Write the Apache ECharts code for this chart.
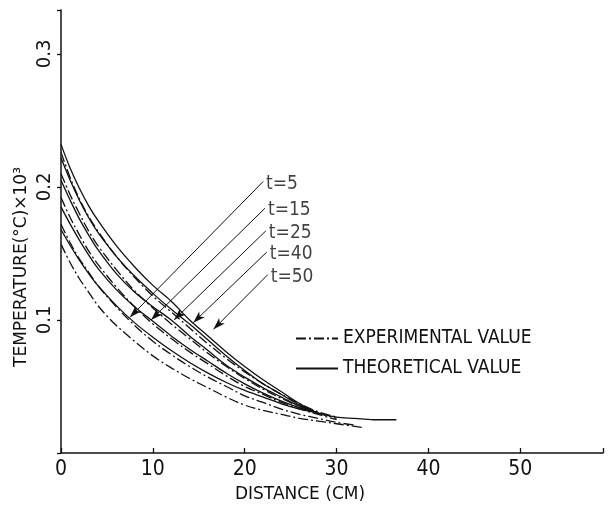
<!DOCTYPE html>
<html>
<head>
<meta charset="utf-8">
<script src="https://cdn.jsdelivr.net/npm/echarts@6/dist/echarts.min.js"></script>
<style>
  html, body { margin: 0; padding: 0; background: #fff; }
  #chart { width: 609px; height: 508px; }
</style>
</head>
<body>
<div id="chart"></div>
<script>
// Temperature profiles along the bar, [distance (cm), temperature (°C ×10^3)]
const theoT5 = [[0,0.168],[1,0.156],[2,0.145],[3,0.135],[4,0.126],[6,0.111],[8,0.098],[10,0.087],[12,0.077],[14,0.068],[16,0.060],[18,0.053],[20,0.047],[22,0.042],[24,0.037],[26,0.033],[28,0.030]];
const theoT15 = [[0,0.185],[1,0.172],[2,0.160],[3,0.149],[4,0.139],[6,0.123],[8,0.110],[10,0.099],[12,0.088],[14,0.078],[16,0.069],[18,0.060],[20,0.052],[22,0.045],[24,0.039],[26,0.034],[28,0.030]];
const theoT25 = [[0,0.205],[1,0.190],[2,0.176],[3,0.164],[4,0.153],[6,0.135],[8,0.121],[10,0.110],[12,0.100],[14,0.088],[16,0.077],[18,0.066],[20,0.057],[22,0.049],[24,0.042],[26,0.035],[28,0.030]];
const theoT40 = [[0,0.222],[1,0.205],[2,0.190],[3,0.177],[4,0.166],[6,0.148],[8,0.133],[10,0.120],[12,0.108],[14,0.097],[16,0.085],[18,0.073],[20,0.062],[22,0.052],[24,0.044],[26,0.036],[28,0.030]];
const theoT50 = [[0,0.232],[1,0.214],[2,0.199],[3,0.186],[4,0.175],[6,0.156],[8,0.140],[10,0.126],[12,0.114],[14,0.100],[16,0.088],[18,0.076],[20,0.065],[22,0.055],[24,0.046],[26,0.037],[28,0.030],[30,0.027],[32,0.026],[34,0.025],[36.5,0.025]];

const expT5 = [[0,0.157],[1,0.143],[2,0.131],[3,0.121],[4,0.111],[5,0.103],[6,0.096],[8,0.084],[10,0.073],[12,0.064],[14,0.056],[16,0.049],[18,0.042],[20,0.036],[22,0.032],[24,0.029],[26,0.026],[28,0.024],[30,0.022],[33,0.019]];
const expT15 = [[0,0.172],[1,0.158],[2,0.146],[3,0.136],[4,0.126],[6,0.110],[8,0.096],[10,0.084],[12,0.074],[14,0.065],[16,0.057],[18,0.050],[20,0.043],[22,0.038],[24,0.033],[26,0.029],[28,0.026],[30,0.023],[32,0.021]];
const expT25 = [[0,0.192],[1,0.177],[2,0.164],[3,0.152],[4,0.142],[6,0.125],[8,0.110],[10,0.097],[12,0.086],[14,0.076],[16,0.067],[18,0.058],[20,0.050],[22,0.044],[24,0.038],[26,0.033],[28,0.029],[30,0.025]];
const expT40 = [[0,0.210],[1,0.194],[2,0.180],[3,0.167],[4,0.156],[6,0.138],[8,0.122],[10,0.109],[12,0.097],[14,0.086],[16,0.075],[18,0.065],[20,0.056],[22,0.048],[24,0.041],[26,0.035],[28,0.030],[30,0.026]];
const expT50 = [[0,0.226],[1,0.207],[2,0.191],[3,0.178],[4,0.167],[6,0.148],[8,0.132],[10,0.118],[12,0.106],[14,0.094],[16,0.082],[18,0.071],[20,0.061],[22,0.052],[24,0.044],[26,0.037],[28,0.031],[30,0.027]];

// Time labels with their leader lines: tip on the curve, end beside the label
const timeLabels = ['t=5', 't=15', 't=25', 't=40', 't=50'];
const leaderTips = [[7.5,0.102],[9.8,0.100],[12.3,0.100],[14.4,0.098],[16.6,0.093]];
const leaderEnds = [[22.0,0.204],[22.2,0.184],[22.3,0.167],[22.4,0.151],[22.5,0.134]];

const xTicks = [0, 10, 20, 30, 40, 50];
const yTicks = ['0.1', '0.2', '0.3'];

const INK = '#111';
const NARROW = "'Liberation Sans Narrow', 'DejaVu Sans Condensed', sans-serif";
const EXP_NAME = 'EXPERIMENTAL VALUE';
const THEO_NAME = 'THEORETICAL VALUE';

function curve(name, data, dashed) {
  return {
    name: name,
    type: 'line',
    data: data,
    smooth: 0.35,
    symbol: 'none',
    silent: true,
    lineStyle: { color: INK, width: 1.3, type: dashed ? [10, 3, 2, 3] : 'solid' },
    itemStyle: { color: INK }
  };
}

const series = [
  curve(THEO_NAME, theoT5, false),
  curve(THEO_NAME, theoT15, false),
  curve(THEO_NAME, theoT25, false),
  curve(THEO_NAME, theoT40, false),
  curve(THEO_NAME, theoT50, false),
  curve(EXP_NAME, expT5, true),
  curve(EXP_NAME, expT15, true),
  curve(EXP_NAME, expT25, true),
  curve(EXP_NAME, expT40, true),
  curve(EXP_NAME, expT50, true),
  {
    name: 'leaders',
    type: 'line',
    data: [],
    silent: true,
    markLine: {
      silent: true,
      animation: false,
      symbol: ['none', 'arrow'],
      symbolSize: [6, 12],
      label: { show: false },
      lineStyle: { color: INK, width: 1, type: 'solid' },
      data: leaderEnds.map((e, i) => [{ coord: e }, { coord: leaderTips[i] }])
    }
  },
  {
    name: 'timeLabels',
    type: 'scatter',
    silent: true,
    symbolSize: 0,
    data: leaderEnds.map((e, i) => ({ value: e, name: timeLabels[i] })),
    label: {
      show: true,
      position: 'right',
      distance: 3,
      offset: [0, 2],
      formatter: p => p.name,
      color: INK,
      fontFamily: NARROW,
      fontSize: 19
    }
  }
];

const chart = echarts.init(document.getElementById('chart'));
chart.setOption({
  animation: false,
  backgroundColor: '#fff',
  grid: { left: 61, right: 6, top: 10, bottom: 52 },
  legend: {
    data: [EXP_NAME, THEO_NAME],
    orient: 'vertical',
    left: 290,
    top: 324,
    padding: 5,
    itemWidth: 42,
    itemHeight: 14,
    itemGap: 11,
    selectedMode: false,
    itemStyle: { opacity: 0 },
    textStyle: { color: INK, fontFamily: NARROW, fontSize: 19 }
  },
  xAxis: {
    type: 'value',
    min: 0,
    max: 59,
    interval: 10,
    name: 'DISTANCE (CM)',
    nameLocation: 'middle',
    nameGap: 33,
    nameTextStyle: { color: INK, fontFamily: 'DejaVu Sans', fontSize: 17, padding: [0, 64, 0, 0] },
    splitLine: { show: false },
    axisLine: { lineStyle: { color: INK, width: 1.5 } },
    axisTick: { inside: true, length: 5, lineStyle: { color: INK, width: 1.3 } },
    axisLabel: {
      color: INK, fontFamily: NARROW, fontSize: 21, margin: 6,
      formatter: v => (xTicks.indexOf(v) >= 0 ? String(v) : '')
    }
  },
  yAxis: {
    type: 'value',
    min: 0,
    max: 0.333,
    interval: 0.1,
    splitLine: { show: false },
    axisLine: { lineStyle: { color: INK, width: 1.5 } },
    axisTick: { inside: false, length: 4, lineStyle: { color: INK, width: 1.3 } },
    axisLabel: {
      color: INK, fontFamily: NARROW, fontSize: 20, rotate: 90, margin: 6,
      formatter: v => {
        const k = Math.round(v * 10);
        if (Math.abs(v * 10 - k) > 1e-6) return '';
        return k >= 1 && k <= yTicks.length ? yTicks[k - 1] : '';
      }
    }
  },
  graphic: [{
    type: 'text',
    x: 22,
    y: 267,
    rotation: Math.PI / 2,
    silent: true,
    style: {
      text: 'TEMPERATURE(°C)×10³',
      fill: INK,
      font: '17px "DejaVu Sans"',
      textAlign: 'center',
      textVerticalAlign: 'middle'
    }
  }],
  series: series
});
</script>
</body>
</html>
